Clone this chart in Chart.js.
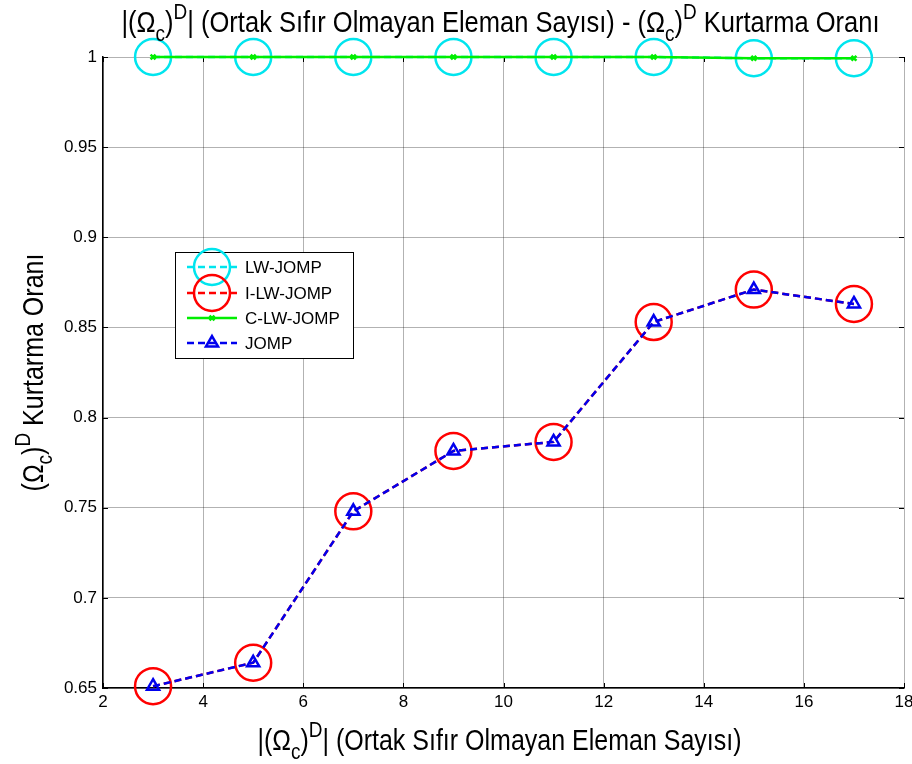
<!DOCTYPE html>
<html>
<head>
<meta charset="utf-8">
<script src="https://cdn.jsdelivr.net/npm/chart.js@4.4.0/dist/chart.umd.min.js"></script>
<style>
  html, body { margin: 0; padding: 0; background: #fff; }
  #wrap { width: 912px; height: 764px; }
</style>
</head>
<body>
<div id="wrap"><canvas id="recoveryChart" width="912" height="764"></canvas></div>
<script>
// values
const xValues = [3, 5, 7, 9, 11, 13, 15, 17];
const lwJomp = [1, 1, 1, 1, 1, 1, 0.9993, 0.9993];
const iLwJomp = [0.651, 0.664, 0.748, 0.7815, 0.7865, 0.853, 0.871, 0.863];
const cLwJomp = [1, 1, 1, 1, 1, 1, 0.9993, 0.9993];
const jomp = [0.651, 0.664, 0.748, 0.7815, 0.7865, 0.853, 0.871, 0.863];
const xTicks = [2, 4, 6, 8, 10, 12, 14, 16, 18];
const yTicks = [0.65, 0.7, 0.75, 0.8, 0.85, 0.9, 0.95, 1];
const seriesNames = ['LW-JOMP', 'I-LW-JOMP', 'C-LW-JOMP', 'JOMP'];

const FONT = '"Liberation Sans", Arial, sans-serif';

const toPoints = (ys) => xValues.map((x, i) => ({ x, y: ys[i] }));

// text pieces with sub/superscripts
const titleParts = [
  { t: '|(\u03A9' }, { t: 'c', s: 'sub' }, { t: ')' }, { t: 'D', s: 'sup' },
  { t: '| (Ortak S\u0131f\u0131r Olmayan Eleman Say\u0131s\u0131) - (\u03A9' },
  { t: 'c', s: 'sub' }, { t: ')' }, { t: 'D', s: 'sup' }, { t: ' Kurtarma Oran\u0131' }
];
const xLabelParts = [
  { t: '|(\u03A9' }, { t: 'c', s: 'sub' }, { t: ')' }, { t: 'D', s: 'sup' },
  { t: '| (Ortak S\u0131f\u0131r Olmayan Eleman Say\u0131s\u0131)' }
];
const yLabelParts = [
  { t: '(\u03A9' }, { t: 'c', s: 'sub' }, { t: ')' }, { t: 'D', s: 'sup' },
  { t: ' Kurtarma Oran\u0131' }
];

function partFont(p, size) {
  return (p.s ? Math.round(size * 0.75) : size) + 'px ' + FONT;
}

function richWidth(ctx, parts, size) {
  let w = 0;
  parts.forEach(p => { ctx.font = partFont(p, size); w += ctx.measureText(p.t).width; });
  return w;
}

// the reference text is a bit taller than Arial, so stretch it vertically
function drawRich(ctx, parts, cx, baseline, size) {
  let x = cx - richWidth(ctx, parts, size) / 2;
  ctx.save();
  ctx.translate(0, baseline);
  ctx.scale(1, 1.15);
  ctx.textAlign = 'left';
  ctx.textBaseline = 'alphabetic';
  ctx.fillStyle = '#000';
  parts.forEach(p => {
    ctx.font = partFont(p, size);
    let dy = 0;
    if (p.s === 'sub') dy = size * 0.3;
    if (p.s === 'sup') dy = -size * 0.45;
    ctx.fillText(p.t, x, dy);
    x += ctx.measureText(p.t).width;
  });
  ctx.restore();
}

const labelsPlugin = {
  id: 'labels',
  afterDraw(chart) {
    const ctx = chart.ctx;
    const area = chart.chartArea;
    const cx = (area.left + area.right) / 2;
    ctx.save();
    drawRich(ctx, titleParts, cx - 3, 32, 25.5);
    drawRich(ctx, xLabelParts, cx - 4, 750, 25);
    ctx.translate(43, (area.top + area.bottom) / 2);
    ctx.rotate(-Math.PI / 2);
    drawRich(ctx, yLabelParts, 0, 0, 25);
    ctx.restore();
  }
};

// MATLAB-style inward tick marks
const innerTicksPlugin = {
  id: 'innerTicks',
  beforeDatasetsDraw(chart) {
    const ctx = chart.ctx;
    const { left, right, top, bottom } = chart.chartArea;
    const xs = chart.scales.x, ys = chart.scales.y;
    const len = 5;
    ctx.save();
    ctx.strokeStyle = '#000';
    ctx.lineWidth = 1;
    ctx.beginPath();
    xTicks.forEach(v => {
      const px = Math.round(xs.getPixelForValue(v)) + 0.5;
      ctx.moveTo(px, bottom); ctx.lineTo(px, bottom - len);
      ctx.moveTo(px, top); ctx.lineTo(px, top + len);
    });
    yTicks.forEach(v => {
      const py = Math.round(ys.getPixelForValue(v)) + 0.5;
      ctx.moveTo(left, py); ctx.lineTo(left + len, py);
      ctx.moveTo(right, py); ctx.lineTo(right - len, py);
    });
    ctx.stroke();
    ctx.restore();
  }
};

// legend box drawn inside the plot, line + marker samples
const legendPlugin = {
  id: 'boxLegend',
  afterDraw(chart) {
    const ctx = chart.ctx;
    const box = { x: 175.5, y: 252.5, w: 178, h: 106 };
    ctx.save();
    ctx.fillStyle = '#fff';
    ctx.fillRect(box.x, box.y, box.w, box.h);
    ctx.strokeStyle = '#000';
    ctx.lineWidth = 1;
    ctx.strokeRect(box.x, box.y, box.w, box.h);
    const rowY = [267, 293, 318, 343];
    seriesNames.forEach((name, i) => {
      const ds = chart.data.datasets.find(d => d.label === name);
      const y = rowY[i];
      ctx.strokeStyle = ds.borderColor;
      ctx.lineWidth = ds.borderWidth;
      ctx.setLineDash(ds.borderDash || []);
      ctx.beginPath();
      ctx.moveTo(187, y); ctx.lineTo(237, y);
      ctx.stroke();
      ctx.setLineDash([]);
      ctx.strokeStyle = ds.pointBorderColor;
      ctx.fillStyle = ds.pointBackgroundColor;
      ctx.lineWidth = ds.pointBorderWidth;
      Chart.helpers.drawPoint(ctx, {
        pointStyle: ds.pointStyle,
        radius: ds.pointRadius,
        borderWidth: ds.pointBorderWidth,
        rotation: 0
      }, 212, y);
      ctx.fillStyle = '#000';
      ctx.font = '17px ' + FONT;
      ctx.textAlign = 'left';
      ctx.textBaseline = 'middle';
      ctx.fillText(name, 245, y + 1);
    });
    ctx.restore();
  }
};

const ctx = document.getElementById('recoveryChart').getContext('2d');
new Chart(ctx, {
  type: 'scatter',
  data: {
    datasets: [
      {
        label: 'LW-JOMP',
        data: toPoints(lwJomp),
        showLine: true,
        borderColor: '#00e5ee',
        borderWidth: 2.5,
        borderDash: [7, 4],
        pointStyle: 'circle',
        pointRadius: 18,
        pointBorderWidth: 2.5,
        pointBorderColor: '#00e5ee',
        pointBackgroundColor: 'rgba(0,0,0,0)',
        clip: false,
        order: 4
      },
      {
        label: 'I-LW-JOMP',
        data: toPoints(iLwJomp),
        showLine: true,
        borderColor: '#ff0000',
        borderWidth: 2.5,
        borderDash: [7, 4],
        pointStyle: 'circle',
        pointRadius: 18,
        pointBorderWidth: 2.5,
        pointBorderColor: '#ff0000',
        pointBackgroundColor: 'rgba(0,0,0,0)',
        clip: false,
        order: 3
      },
      {
        label: 'C-LW-JOMP',
        data: toPoints(cLwJomp),
        showLine: true,
        borderColor: '#00ee00',
        borderWidth: 2.5,
        pointStyle: 'crossRot',
        pointRadius: 3.5,
        pointBorderWidth: 2.5,
        pointBorderColor: '#00ee00',
        pointBackgroundColor: '#00ee00',
        clip: false,
        order: 2
      },
      {
        label: 'JOMP',
        data: toPoints(jomp),
        showLine: true,
        borderColor: '#0000ee',
        borderWidth: 2.5,
        borderDash: [7, 4],
        pointStyle: 'triangle',
        pointRadius: 7,
        pointBorderWidth: 2.5,
        pointBorderColor: '#0000ee',
        pointBackgroundColor: 'rgba(0,0,0,0)',
        clip: false,
        order: 1
      }
    ]
  },
  plugins: [innerTicksPlugin, legendPlugin, labelsPlugin],
  options: {
    responsive: false,
    animation: false,
    layout: { autoPadding: false, padding: { top: 57, right: 8, left: 0, bottom: 0 } },
    plugins: {
      legend: { display: false },
      title: { display: false },
      tooltip: { enabled: false }
    },
    scales: {
      x: {
        type: 'linear',
        min: 2,
        max: 18,
        afterBuildTicks: (scale) => { scale.ticks = xTicks.map(v => ({ value: v })); },
        afterFit: (scale) => {
          scale.height = 76;
          scale.paddingLeft = 0;
          scale.paddingRight = 8;
        },
        ticks: {
          color: '#000',
          font: { family: FONT, size: 17 },
          padding: 4,
          maxRotation: 0
        },
        grid: {
          color: 'rgba(0,0,0,0.3)',
          drawTicks: false
        },
        border: { display: true, color: '#000', width: 1.5 }
      },
      y: {
        type: 'linear',
        min: 0.65,
        max: 1,
        afterBuildTicks: (scale) => { scale.ticks = yTicks.map(v => ({ value: v })); },
        afterFit: (scale) => {
          scale.width = 103;
          scale.paddingTop = 0;
          scale.paddingBottom = 0;
        },
        ticks: {
          color: '#000',
          font: { family: FONT, size: 17 },
          padding: 6,
          callback: (v) => String(+v.toFixed(2))
        },
        grid: {
          color: 'rgba(0,0,0,0.3)',
          drawTicks: false
        },
        border: { display: true, color: '#000', width: 1.5 }
      }
    }
  }
});
</script>
</body>
</html>
